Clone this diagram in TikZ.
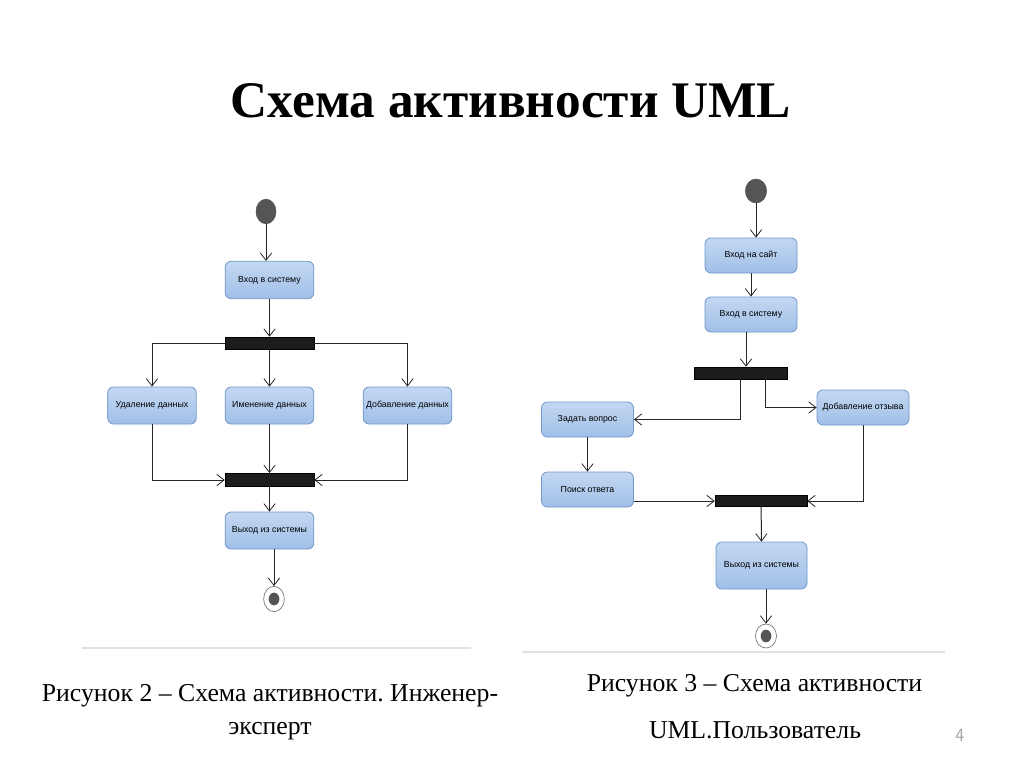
\documentclass[tikz,border=0pt]{standalone}
\usepackage{fontspec}
\setmainfont{Liberation Serif}
\newfontfamily\boxfont{Liberation Sans}
\usetikzlibrary{arrows.meta,shapes.geometric}
\frenchspacing
\definecolor{boxtop}{HTML}{C3D8F2}
\definecolor{boxbot}{HTML}{A0BFE7}
\definecolor{boxline}{HTML}{6F97C8}
\definecolor{startgray}{HTML}{555555}
\definecolor{barfill}{HTML}{1C1C1C}
\definecolor{sepline}{HTML}{E2E2E2}
\tikzset{
  act/.style={rectangle, rounded corners=4.5pt, draw=boxline, line width=0.6pt,
    top color=boxtop, bottom color=boxbot, font=\boxfont\fontsize{6.6}{8}\selectfont,
    inner sep=1pt, align=center},
  actL/.style={act, minimum width=66.5pt, minimum height=28pt},
  actR/.style={act, minimum width=69pt, minimum height=26.25pt},
  syncbar/.style={rectangle, fill=barfill, draw=black, line width=0.4pt, inner sep=0pt},
  startst/.style={ellipse, fill=startgray, draw=startgray, inner sep=0pt,
    minimum width=15pt, minimum height=18.5pt},
  finalst/.style={ellipse, fill=white, draw=black!55, line width=0.5pt, inner sep=0pt,
    minimum width=15.5pt, minimum height=19pt},
  finaldot/.style={ellipse, fill=startgray, inner sep=0pt,
    minimum width=8pt, minimum height=9.5pt},
  flow/.style={draw=black!85, line width=0.75pt, -{Straight Barb[length=5.5pt,width=8.5pt,line width=0.6pt]}},
  captext/.style={font=\fontsize{19.3}{23}\selectfont, inner sep=0pt}
}
\begin{document}
\begin{tikzpicture}[x=0.75pt,y=-0.75pt]
\useasboundingbox (0,0) rectangle (1024,767);
\fill[white] (0,0) rectangle (1024,767);

% title
\node[font=\bfseries\fontsize{38.5}{46}\selectfont, inner sep=0pt] (title) at (511,101) {Схема активности UML};

% ---------- left diagram ----------
\node[startst] (s1) at (266,211.5) {};
\node[actL] (login1) at (269.5,280) {Вход в систему};
\node[syncbar, minimum width=66.75pt, minimum height=9pt] (fork1) at (269.5,343) {};
\node[actL, minimum height=27.75pt] (del) at (152,405.5) {Удаление данных};
\node[actL, minimum height=27.75pt] (mod) at (269.5,405.5) {Именение данных};
\node[actL, minimum height=27.75pt] (add) at (407.5,405.5) {Добавление данных};
\node[syncbar, minimum width=66.75pt, minimum height=10pt] (join1) at (269.5,480) {};
\node[actL, minimum height=27.75pt] (exit1) at (269.5,530.5) {Выход из системы};
\node[finalst] (f1) at (274,599) {};
\node[finaldot] (f1dot) at (f1) {};

\draw[flow] (s1) -- (s1 |- login1.north);
\draw[flow] (login1) -- (fork1.north);
\draw[flow] (fork1.west) -| (del.north);
\draw[flow] (fork1) -- (mod.north);
\draw[flow] (fork1.east) -| (add.north);
\draw[flow] (del.south) |- (join1.west);
\draw[flow] (mod.south) -- (join1.north);
\draw[flow] (add.south) |- (join1.east);
\draw[flow] (join1) -- (exit1.north);
\draw[flow] (f1 |- exit1.south) -- (f1);

% ---------- right diagram ----------
\node[startst, minimum width=16pt, minimum height=18pt] (s2) at (756,191) {};
\node[actR] (site) at (751,255.5) {Вход на сайт};
\node[actR] (login2) at (751,314.5) {Вход в систему};
\node[syncbar, minimum width=69.75pt, minimum height=9pt] (fork2) at (740.5,373) {};
\node[actR] (ask) at (587.5,419.5) {Задать вопрос};
\node[actR] (review) at (863,407.5) {Добавление отзыва};
\node[actR] (search) at (587.5,489.5) {Поиск ответа};
\node[syncbar, minimum width=69pt, minimum height=8.25pt] (join2) at (761,501) {};
\node[actR, minimum width=68.25pt, minimum height=35.25pt] (exit2) at (761.5,565.5) {Выход из системы};
\node[finalst, minimum width=15.75pt, minimum height=18pt] (f2) at (766,636) {};
\node[finaldot] (f2dot) at (f2) {};

\coordinate (l2out) at ([xshift=-3.75pt]login2.south);
\coordinate (f2right) at ([xshift=19pt]fork2.south);

\draw[flow] (s2) -- (s2 |- site.north);
\draw[flow] (site) -- (login2.north);
\draw[flow] (l2out) -- (l2out |- fork2.north);
\draw[flow] (fork2.south) |- (ask.east);
\draw[flow] (f2right) |- (review.west);
\draw[flow] (ask) -- (search.north);
\draw[flow] (search.east |- join2.west) -- (join2.west);
\draw[flow] (review.south) |- (join2.east);
\draw[flow] (join2) -- (exit2.north);
\draw[flow] (f2 |- exit2.south) -- (f2);

% separators
\draw[sepline, line width=1.5pt] (82,648) -- (471,648);
\draw[sepline, line width=1.5pt] (522,652) -- (945,652);

% captions
\node[captext] (cap2a) at (270,696) {Рисунок 2 – Схема активности. Инженер-};
\node[captext] (cap2b) at (270,731) {эксперт};
\node[captext] (cap3a) at (754.5,686) {Рисунок 3 – Схема активности};
\node[captext] (cap3b) at (755,730) {UML.Пользователь};

\node[font=\sffamily\fontsize{14}{16}\selectfont, text=black!35] (pnum) at (960,735) {4};
\end{tikzpicture}
\end{document}
